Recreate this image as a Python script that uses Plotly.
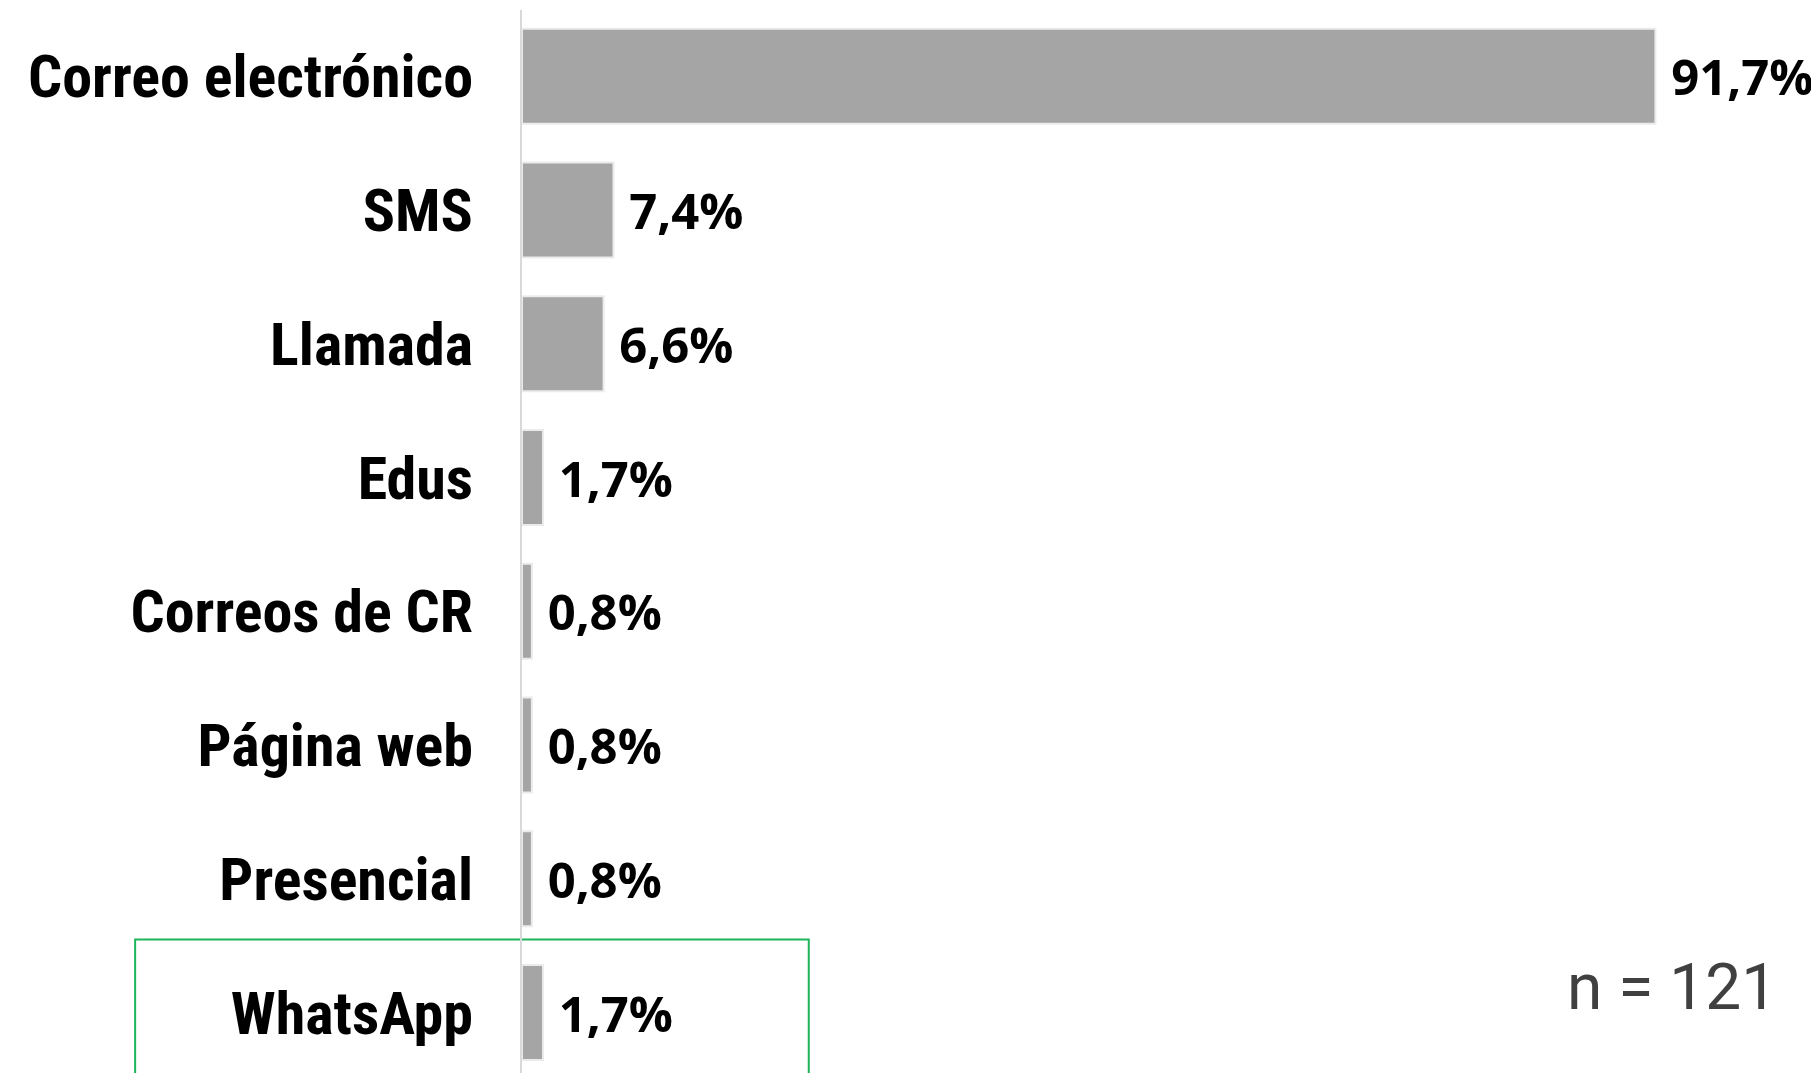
import plotly.graph_objects as go

CATEGORIES = [
    "Correo electrónico",
    "SMS",
    "Llamada",
    "Edus",
    "Correos de CR",
    "Página web",
    "Presencial",
    "WhatsApp",
]
PERCENTS = [91.7, 7.4, 6.6, 1.7, 0.8, 0.8, 0.8, 1.7]
SAMPLE_NOTE = "n = 121"

BAR_GREY = "#a5a5a5"
AXIS_GREY = "#d9d9d9"
HIGHLIGHT_GREEN = "#1db45a"

fig = go.Figure()
fig.add_trace(
    go.Bar(
        x=PERCENTS,
        y=CATEGORIES,
        orientation="h",
        width=0.71,
        marker={"color": BAR_GREY, "line": {"color": "#ebebeb", "width": 2}},
        texttemplate="\u00a0%{x:.1f}%",
        textposition="outside",
        cliponaxis=False,
        textfont={"family": "Open Sans", "size": 49, "color": "#000000", "weight": 700},
    )
)

# green frame around the last category
fig.add_shape(
    type="rect",
    xref="paper",
    yref="y",
    x0=-0.313,
    x1=0.232,
    y0=6.453,
    y1=7.7,
    line={"color": HIGHLIGHT_GREEN, "width": 2},
    fillcolor="rgba(0,0,0,0)",
    layer="below",
)

fig.add_annotation(
    text=SAMPLE_NOTE,
    xref="paper",
    yref="paper",
    x=1.017,
    y=0.08,
    xanchor="right",
    yanchor="middle",
    showarrow=False,
    font={"family": "Roboto", "size": 64, "color": "#404040"},
)

# the page body adds an 8px margin, so the figure is 8px smaller each way
fig.update_layout(
    width=1811,
    height=1065,
    paper_bgcolor="white",
    plot_bgcolor="white",
    separators=",.",
    showlegend=False,
    margin={"l": 514, "r": 61, "t": 2, "b": 0},
)
fig.update_xaxes(visible=False, range=[0, 100])
fig.update_yaxes(
    type="category",
    range=[7.452, -0.496],
    showline=True,
    linecolor=AXIS_GREY,
    linewidth=2,
    showgrid=False,
    zeroline=False,
    ticks="",
    ticklabelstandoff=35,
    tickfont={
        "family": "Roboto Condensed, Liberation Sans Narrow, Roboto",
        "size": 60,
        "color": "#000000",
        "weight": 700,
    },
)

fig.write_html("out.html")
